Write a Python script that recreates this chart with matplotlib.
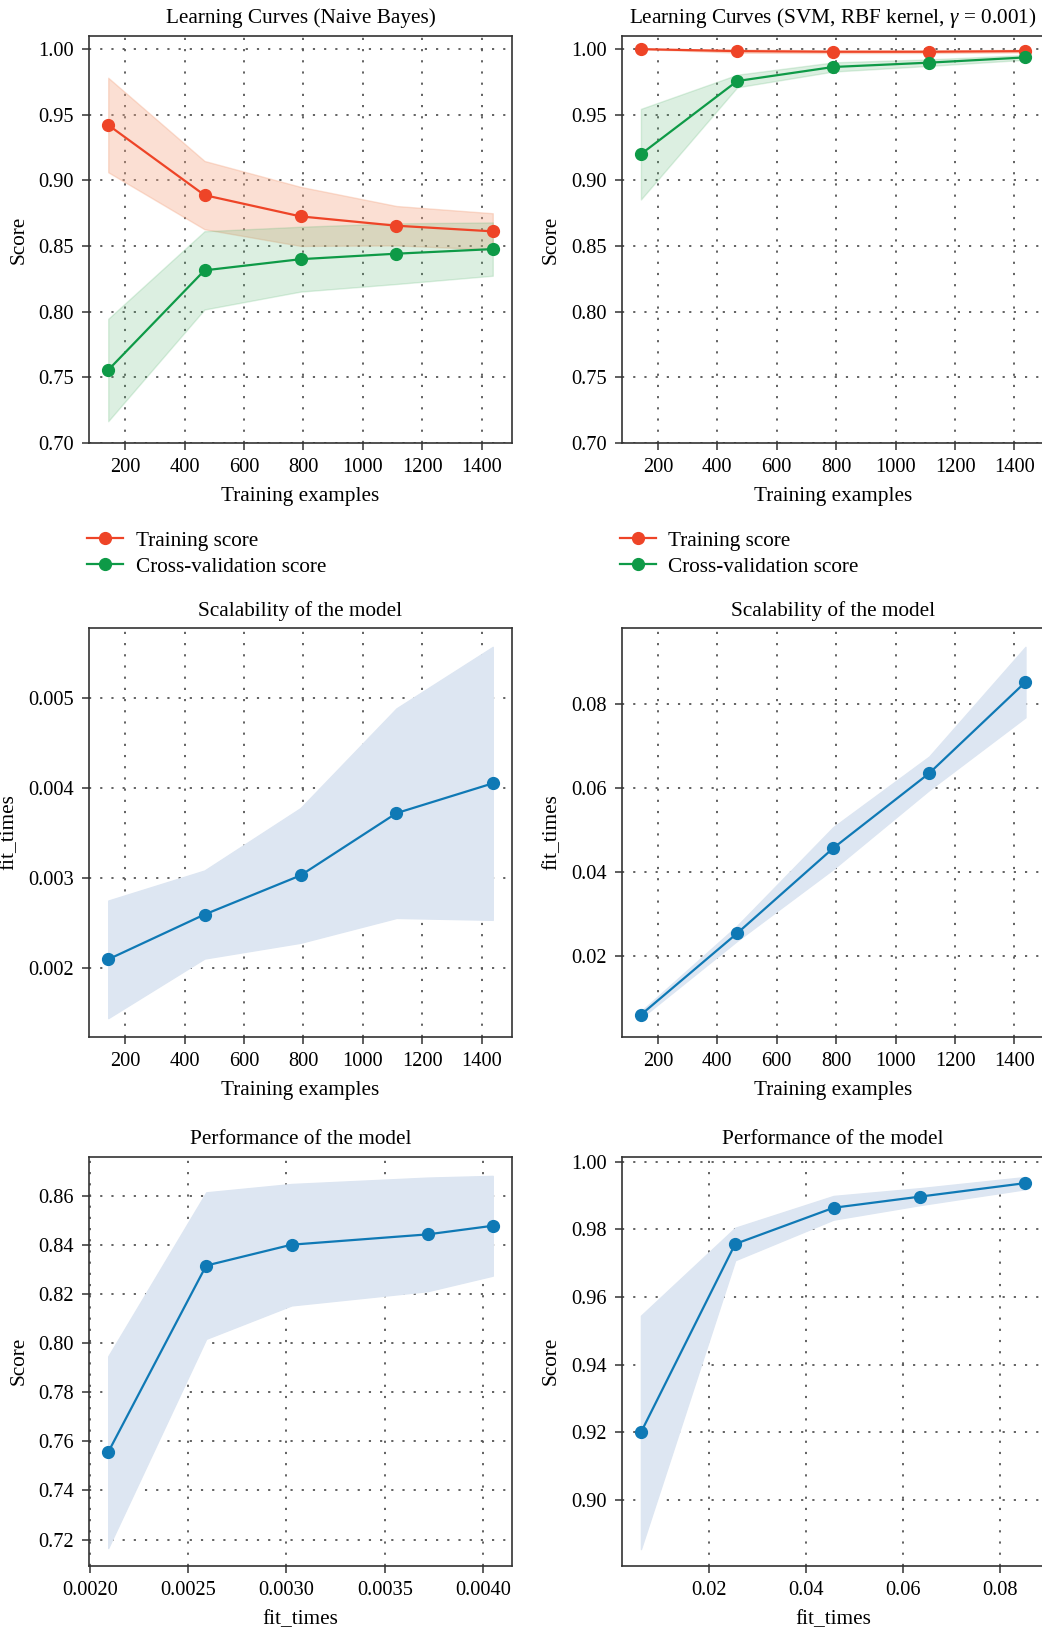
import numpy as np
import matplotlib
matplotlib.use("Agg")
import matplotlib.pyplot as plt
from matplotlib.ticker import MultipleLocator, FormatStrFormatter

plt.rcParams['font.family'] = ['Liberation Serif', 'DejaVu Serif']
plt.rcParams['mathtext.fontset'] = 'custom'
plt.rcParams['mathtext.rm'] = 'Liberation Serif'
plt.rcParams['mathtext.it'] = 'Liberation Serif:italic'

train_sizes = [143, 467, 790, 1113, 1437]

# Naive Bayes
nb_train_mean = [0.9422, 0.8888, 0.8726, 0.8655, 0.8612]
nb_train_std = [0.036, 0.026, 0.0225, 0.015, 0.0138]
nb_test_mean = [0.7556, 0.8315, 0.8400, 0.8442, 0.8477]
nb_test_std = [0.039, 0.0298, 0.0247, 0.0231, 0.0203]
nb_fit_mean = [0.002094, 0.002592, 0.003026, 0.003718, 0.004049]
nb_fit_std = [0.000653, 0.000489, 0.000748, 0.001164, 0.001516]

# SVM, RBF kernel
svm_train_mean = [1.000, 0.9985, 0.998, 0.998, 0.9985]
svm_train_std = [0.0, 0.0012, 0.001, 0.001, 0.001]
svm_test_mean = [0.920, 0.9757, 0.9864, 0.9897, 0.9937]
svm_test_std = [0.0345, 0.0048, 0.0035, 0.0025, 0.0018]
svm_fit_mean = [0.00593, 0.02538, 0.04567, 0.06353, 0.08528]
svm_fit_std = [0.0008, 0.0018, 0.005, 0.004, 0.0084]

# score range of the performance plots
perf_ylims = [(0.7094, 0.8758), (0.8806, 1.0015)]

RED = '#ee4427'
GREEN = '#0e9a47'
BLUE = '#0f79b5'
FS = 15.3


def style(ax):
    for s in ax.spines.values():
        s.set_color('#333333')
        s.set_linewidth(1.2)
    ax.tick_params(direction='out', length=5, width=1.1, color='#333333',
                   labelsize=14.7, pad=6, top=False, right=False)
    ax.grid(True, linestyle=(0, (1.2, 5)), color='#555555', linewidth=1.3)
    ax.set_axisbelow(True)


def band(ax, x, m, s, line_c, fill_c, alpha, label=None):
    m = np.array(m)
    s = np.array(s)
    ax.fill_between(x, m - s, m + s, color=fill_c, alpha=alpha, linewidth=1)
    ax.plot(x, m, 'o-', color=line_c, lw=1.6, ms=8.5, label=label)


fig = plt.figure(figsize=(10.42, 16.32), dpi=100)
W, H = 1042.0, 1632.0
lefts = [89, 621.7]
w = 423
rows = [(36, 443), (628.3, 1036.7), (1156.7, 1565.7)]
axes = []
for top, bot in rows:
    r = []
    for l in lefts:
        r.append(fig.add_axes([l / W, 1 - bot / H, w / W, (bot - top) / H]))
    axes.append(r)

panels = [
    ("Learning Curves (Naive Bayes)", nb_train_mean, nb_train_std, nb_test_mean,
     nb_test_std, nb_fit_mean, nb_fit_std),
    ("Learning Curves (SVM, RBF kernel, $\\gamma$ = 0.001)", svm_train_mean,
     svm_train_std, svm_test_mean, svm_test_std, svm_fit_mean, svm_fit_std),
]

for col, (title, trm, trs, tem, tes, fm, fsd) in enumerate(panels):
    # learning curve
    ax = axes[0][col]
    style(ax)
    band(ax, train_sizes, trm, trs, RED, '#f4a582', 0.35, "Training score")
    band(ax, train_sizes, tem, tes, GREEN, '#52b36b', 0.2, "Cross-validation score")
    ax.set_ylim(0.70, 1.01)
    ax.yaxis.set_major_locator(MultipleLocator(0.05))
    ax.yaxis.set_major_formatter(FormatStrFormatter('%.2f'))
    ax.xaxis.set_major_locator(MultipleLocator(200))
    ax.set_title(title, fontsize=FS, pad=9)
    ax.set_xlabel("Training examples", fontsize=FS, labelpad=7)
    ax.set_ylabel("Score", fontsize=FS, labelpad=7)
    ax.legend(loc='center left', bbox_to_anchor=(-0.005, -0.272), frameon=False,
              fontsize=FS, borderpad=0, borderaxespad=0, handlelength=1.7,
              handletextpad=0.6, labelspacing=0.3)

    # scalability
    ax = axes[1][col]
    style(ax)
    band(ax, train_sizes, fm, fsd, BLUE, '#dde6f2', 1.0)
    ax.xaxis.set_major_locator(MultipleLocator(200))
    if col == 0:
        ax.yaxis.set_major_locator(MultipleLocator(0.001))
        ax.yaxis.set_major_formatter(FormatStrFormatter('%.3f'))
    else:
        ax.yaxis.set_major_locator(MultipleLocator(0.02))
        ax.yaxis.set_major_formatter(FormatStrFormatter('%.2f'))
    ax.set_title("Scalability of the model", fontsize=FS, pad=9)
    ax.set_xlabel("Training examples", fontsize=FS, labelpad=7)
    ax.set_ylabel("fit_times", fontsize=FS, labelpad=7)

    # performance
    ax = axes[2][col]
    style(ax)
    m = np.array(tem)
    s = np.array(tes)
    ax.fill_between(fm, m - s, m + s, color='#dde6f2', linewidth=1)
    ax.plot(fm, m, 'o-', color=BLUE, lw=1.6, ms=8.5)
    ax.set_ylim(*perf_ylims[col])
    ax.yaxis.set_major_locator(MultipleLocator(0.02))
    ax.yaxis.set_major_formatter(FormatStrFormatter('%.2f'))
    if col == 0:
        ax.xaxis.set_major_locator(MultipleLocator(0.0005))
        ax.xaxis.set_major_formatter(FormatStrFormatter('%.4f'))
    else:
        ax.xaxis.set_major_locator(MultipleLocator(0.02))
        ax.xaxis.set_major_formatter(FormatStrFormatter('%.2f'))
    ax.set_title("Performance of the model", fontsize=FS, pad=9)
    ax.set_xlabel("fit_times", fontsize=FS, labelpad=7)
    ax.set_ylabel("Score", fontsize=FS, labelpad=7)

fig.savefig("out.png", dpi=100)
